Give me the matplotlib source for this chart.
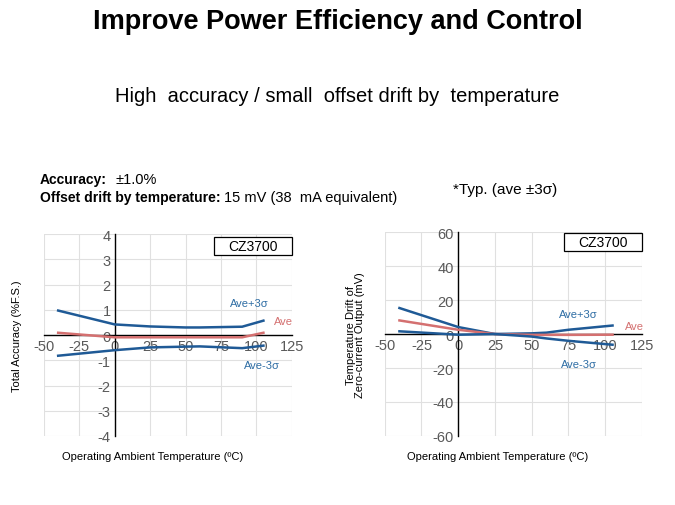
import numpy as np
import matplotlib.pyplot as plt
from matplotlib.patches import Rectangle

plt.rcParams['font.family'] = ['Liberation Sans', 'DejaVu Sans']
plt.rcParams['axes.unicode_minus'] = False

# temperature points (degC)
temp = [-40, 0, 25, 50, 60, 90, 105]

# total accuracy (%F.S.)
acc_hi = [0.97, 0.42, 0.34, 0.30, 0.30, 0.33, 0.57]
acc_ave = [0.09, -0.09, -0.09, -0.09, -0.09, -0.09, 0.09]
acc_lo = [-0.82, -0.60, -0.49, -0.46, -0.45, -0.52, -0.42]

# zero-current output drift (mV)
drift_temp = [-40, 0, 25, 50, 60, 75, 105]
drift_hi = [15.3, 4.1, 0.0, 0.4, 0.8, 2.5, 5.0]
drift_ave = [8.0, 2.5, 0.0, -0.5, -0.5, -0.5, -0.4]
drift_lo = [1.6, -0.4, 0.0, -1.5, -2.6, -4.0, -6.3]

xticks = [-50, -25, 0, 25, 50, 75, 100, 125]

blue = '#1f5a96'
red = '#d47070'
label_blue = '#2e6da4'
grid_c = '#e0e0e0'
tick_c = '#595959'

fig = plt.figure(figsize=(6.75, 5.06), dpi=100)


def setup(ax, ylim, yticks):
    ax.set_xlim(-50, 125)
    ax.set_ylim(*ylim)
    ax.set_xticks(xticks)
    ax.set_yticks(yticks)
    ax.grid(True, color=grid_c, lw=0.8)
    ax.set_axisbelow(True)
    for s in ['top', 'right']:
        ax.spines[s].set_visible(False)
    ax.spines['left'].set_position(('data', 0))
    ax.spines['bottom'].set_position(('data', 0))
    ax.spines['left'].set_color('black')
    ax.spines['bottom'].set_color('black')
    ax.spines['left'].set_linewidth(1.0)
    ax.spines['bottom'].set_linewidth(1.0)
    ax.tick_params(length=0, labelsize=10.5, labelcolor=tick_c, pad=3)


def box(ax, x0, y0, w, h):
    ax.add_patch(Rectangle((x0, y0), w, h, transform=ax.transAxes,
                           facecolor='white', edgecolor='black', lw=0.9,
                           zorder=5, clip_on=False))
    ax.text(x0 + w / 2, y0 + h / 2, 'CZ3700', transform=ax.transAxes,
            ha='center', va='center', fontsize=10, zorder=6)


# left chart
ax1 = fig.add_axes([0.0652, 0.1364, 0.367, 0.399])
setup(ax1, (-4, 4), range(-4, 5))
ax1.plot(temp, acc_hi, color=blue, lw=1.8, zorder=3)
ax1.plot(temp, acc_ave, color=red, lw=1.8, zorder=3)
ax1.plot(temp, acc_lo, color=blue, lw=1.8, zorder=3)
ax1.text(94.7, 1.26, 'Ave+3σ', color=label_blue, fontsize=8, ha='center', va='center')
ax1.text(119.4, 0.56, 'Ave', color=red, fontsize=8, ha='center', va='center')
ax1.text(104, -1.19, 'Ave-3σ', color=label_blue, fontsize=8, ha='center', va='center')
box(ax1, 0.685, 0.896, 0.315, 0.089)
ax1.set_ylabel('Total Accuracy (%F.S.)', fontsize=8)
ax1.yaxis.set_label_coords(-0.09, 0.5)
ax1.set_xlabel('Operating Ambient Temperature (ºC)', fontsize=8)
ax1.xaxis.set_label_coords(0.44, -0.075)

# right chart
ax2 = fig.add_axes([0.570, 0.1364, 0.381, 0.403])
setup(ax2, (-60, 60), range(-60, 61, 20))
ax2.plot(drift_temp, drift_hi, color=blue, lw=1.8, zorder=3)
ax2.plot(drift_temp, drift_ave, color=red, lw=1.8, zorder=3)
ax2.plot(drift_temp, drift_lo, color=blue, lw=1.8, zorder=3)
ax2.text(81.8, 12, 'Ave+3σ', color=label_blue, fontsize=8, ha='center', va='center')
ax2.text(120, 4.7, 'Ave', color=red, fontsize=8, ha='center', va='center')
ax2.text(81.8, -17.8, 'Ave-3σ', color=label_blue, fontsize=8, ha='center', va='center')
box(ax2, 0.696, 0.907, 0.304, 0.088)
ax2.set_ylabel('Temperature Drift of\nZero-current Output (mV)', fontsize=8,
               linespacing=0.95)
ax2.yaxis.set_label_coords(-0.075, 0.5)
ax2.set_xlabel('Operating Ambient Temperature (ºC)', fontsize=8)
ax2.xaxis.set_label_coords(0.44, -0.075)

# titles
fig.text(0.5, 1 - 22 / 506, 'Improve Power Efficiency and Control',
         ha='center', va='center', fontsize=19.5, fontweight='bold')
fig.text(0.5, 1 - 97 / 506, 'High  accuracy / small  offset drift by  temperature',
         ha='center', va='center', fontsize=14.5)

# spec notes
renderer = fig.canvas.get_renderer()
t1 = fig.text(40 / 675, 1 - 180 / 506, 'Accuracy:', fontsize=10, fontweight='bold', va='center')
bb = t1.get_window_extent(renderer)
fig.text((bb.x1 + 8) / 675, 1 - 180 / 506, '±1.0%', fontsize=10.5, va='center')
t2 = fig.text(40 / 675, 1 - 198 / 506, 'Offset drift by temperature:', fontsize=10,
              fontweight='bold', va='center')
bb = t2.get_window_extent(renderer)
fig.text((bb.x1 + 3) / 675, 1 - 198 / 506, '15 mV (38  mA equivalent)', fontsize=10.5, va='center')
fig.text(453 / 675, 1 - 190 / 506, '*Typ. (ave ±3σ)', fontsize=11, va='center')

fig.savefig('out.png', dpi=100)
